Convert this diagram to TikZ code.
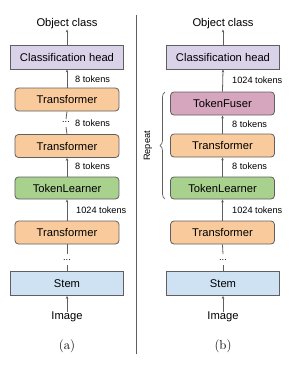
\documentclass[tikz,border=0pt]{standalone}
\usepackage{fontspec}
\setmainfont{Liberation Sans}
\newfontfamily\capfont{Latin Modern Roman}
\usetikzlibrary{arrows.meta,decorations.pathreplacing}
\definecolor{edgegray}{HTML}{5F5F5F}
\definecolor{clsfill}{HTML}{D9D2E9}
\definecolor{trfill}{HTML}{F9CB9C}
\definecolor{tlfill}{HTML}{A9D18E}
\definecolor{tffill}{HTML}{D5A6BD}
\definecolor{stemfill}{HTML}{CFE2F3}
\tikzset{
  boxbase/.style={draw=edgegray, line width=0.8pt, inner sep=0pt, font=\fontsize{11.2}{13}\selectfont},
  widebox/.style={boxbase, minimum width=113pt, minimum height=24pt},
  roundbox/.style={boxbase, rounded corners=3.5pt, minimum width=104pt, minimum height=23pt},
  txt/.style={inner sep=0pt, font=\fontsize{11.2}{13}\selectfont},
  lbl/.style={inner sep=0pt, anchor=west, font=\fontsize{9.2}{11}\selectfont},
  dotsnode/.style={inner sep=0pt, font=\fontsize{9.2}{11}\selectfont},
  conn/.style={draw=edgegray, line width=0.8pt, -{Stealth[length=3pt,width=2.6pt]}},
  plainconn/.style={draw=edgegray, line width=0.8pt},
  caption/.style={inner sep=0pt, font=\capfont\fontsize{13}{15}\selectfont},
}
\begin{document}
\begin{tikzpicture}[x=1pt,y=-1pt]
\useasboundingbox (0,0) rectangle (294,368);
% ---------- (a) ----------
\node[txt] (aobj) at (67,24) {Object class};
\node[widebox, fill=clsfill] (acls) at (67,57) {Classification head};
\node[roundbox, fill=trfill] (at1) at (67,99.5) {Transformer};
\node[roundbox, fill=trfill] (at2) at (67,146) {Transformer};
\node[roundbox, fill=tlfill, minimum height=22pt] (atl) at (67,188) {TokenLearner};
\node[roundbox, fill=trfill] (at3) at (67,232.5) {Transformer};
\node[widebox, fill=stemfill] (astem) at (67,283.5) {Stem};
\node[txt] (aimg) at (67,317) {Image};
\node[caption] (acap) at (67,346) {(a)};
\node[dotsnode] (adots1) at (66,122) {...};
\node[dotsnode] (adots2) at (67,260) {...};
\draw[conn] (acls.north) -- (aobj.south);
\draw[conn] (at1.north) -- (acls.south);
\draw[plainconn] (at2.north) -- ([yshift=-5pt]adots1.center);
\draw[plainconn] ([yshift=3pt]adots1.center) -- (at1.south);
\draw[conn] (atl.north) -- (at2.south);
\draw[conn] (at3.north) -- (atl.south);
\draw[plainconn] (astem.north) -- ([yshift=-5pt]adots2.center);
\draw[plainconn] ([yshift=6pt]adots2.center) -- (at3.south);
\draw[conn] (aimg.north) -- (astem.south);
\node[lbl] (al1) at (75,79) {8 tokens};
\node[lbl] (al2) at (75,123) {8 tokens};
\node[lbl] (al3) at (75,166) {8 tokens};
\node[lbl] (al4) at (76,210) {1024 tokens};
% ---------- divider ----------
\coordinate (divtop) at (136,15);
\coordinate (divbot) at (136,354);
\draw[edgegray, line width=0.7pt] (divtop) -- (divbot);
% ---------- (b) ----------
\node[txt] (bobj) at (223,24) {Object class};
\node[widebox, fill=clsfill] (bcls) at (223,57) {Classification head};
\node[roundbox, fill=tffill] (btf) at (222.5,103.5) {TokenFuser};
\node[roundbox, fill=trfill] (bt1) at (222.5,145.5) {Transformer};
\node[roundbox, fill=tlfill, minimum height=22pt] (btl) at (222.5,188) {TokenLearner};
\node[roundbox, fill=trfill] (bt3) at (222.5,232.5) {Transformer};
\node[widebox, fill=stemfill] (bstem) at (223,283.5) {Stem};
\node[txt] (bimg) at (223,317) {Image};
\node[caption] (bcap) at (223,346) {(b)};
\node[dotsnode] (bdots) at (223,260) {...};
\draw[conn] (bcls.north) -- (bobj.south);
\draw[conn] (btf.north) -- (bcls.south);
\draw[conn] (bt1.north) -- (btf.south);
\draw[conn] (btl.north) -- (bt1.south);
\draw[conn] (bt3.north) -- (btl.south);
\draw[plainconn] (bstem.north) -- ([yshift=-5pt]bdots.center);
\draw[plainconn] ([yshift=6pt]bdots.center) -- (bt3.south);
\draw[conn] (bimg.north) -- (bstem.south);
\node[lbl] (bl1) at (232,80) {1024 tokens};
\node[lbl] (bl2) at (232,124) {8 tokens};
\node[lbl] (bl3) at (232,166) {8 tokens};
\node[lbl] (bl4) at (232,210) {1024 tokens};
% brace + Repeat
\coordinate (brbot) at (165,199);
\coordinate (brtop) at (165,92);
\draw[edgegray, line width=0.7pt, decorate, decoration={brace, amplitude=5pt}] (brbot) -- (brtop);
\node[inner sep=0pt, rotate=90, font=\fontsize{9.2}{11}\selectfont] (brep) at (148,146) {Repeat};
\end{tikzpicture}
\end{document}
